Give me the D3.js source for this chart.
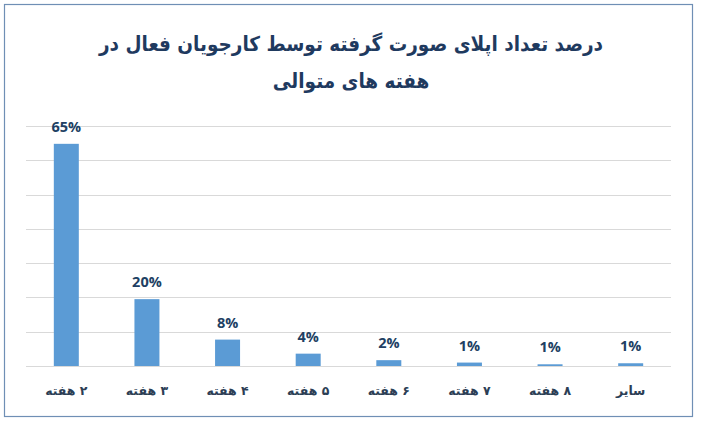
<!DOCTYPE html>
<html>
<head>
<meta charset="utf-8">
<script src="https://cdn.jsdelivr.net/npm/d3@7"></script>
<style>
  body { margin: 0; background: #fff; }
  svg { display: block; }
</style>
</head>
<body>
<svg id="chart" width="701" height="426"></svg>
<script>
// data
const categories = ["۲ هفته", "۳ هفته", "۴ هفته", "۵ هفته", "۶ هفته", "۷ هفته", "۸ هفته", "سایر"]
const values = [64.8, 19.5, 7.7, 3.6, 1.7, 1.0, 0.5, 0.8]
const valueLabels = ["65%", "20%", "8%", "4%", "2%", "1%", "1%", "1%"]
const yTicks = [0, 10, 20, 30, 40, 50, 60, 70]
const titleLines = ["درصد تعداد اپلای صورت گرفته توسط کارجویان فعال در", "هفته های متوالی"]

const svg = d3.select("#chart")
const persianFont = "'DejaVu Sans', sans-serif"

// outer frame
svg.append("rect")
    .attr("x", 4.5).attr("y", 4.5)
    .attr("width", 688).attr("height", 412)
    .attr("fill", "#fff")
    .attr("stroke", "#6f8fb5")
    .attr("stroke-width", 1.2)

const plot = { left: 26, right: 671, top: 126, bottom: 366 }

const x = d3.scaleBand()
    .domain(categories)
    .range([plot.left, plot.right])
    .paddingInner(0.69)
    .paddingOuter(0.345)

const y = d3.scaleLinear()
    .domain([0, 70])
    .range([plot.bottom, plot.top])

// grid lines
svg.append("g")
    .selectAll("line")
    .data(yTicks)
    .enter().append("line")
    .attr("x1", plot.left).attr("x2", plot.right)
    .attr("y1", d => Math.round(y(d)) + 0.5)
    .attr("y2", d => Math.round(y(d)) + 0.5)
    .attr("stroke", "#d9d9d9")
    .attr("stroke-width", 1)

// bars
svg.append("g")
    .selectAll("rect")
    .data(values)
    .enter().append("rect")
    .attr("x", (d, i) => x(categories[i]))
    .attr("width", x.bandwidth())
    .attr("y", d => y(d))
    .attr("height", d => y(0) - y(d))
    .attr("fill", "#5b9bd5")

// value labels
svg.append("g")
    .selectAll("text")
    .data(values)
    .enter().append("text")
    .attr("x", (d, i) => x(categories[i]) + x.bandwidth() / 2)
    .attr("y", d => y(d) - 12)
    .attr("text-anchor", "middle")
    .attr("font-family", "'Open Sans', sans-serif")
    .attr("font-weight", "bold")
    .attr("font-size", 14.5)
    .attr("fill", "#213f63")
    .text((d, i) => valueLabels[i])

// category labels
svg.append("g")
    .selectAll("text")
    .data(categories)
    .enter().append("text")
    .attr("x", d => x(d) + x.bandwidth() / 2)
    .attr("y", 395)
    .attr("text-anchor", "middle")
    .attr("direction", "rtl")
    .attr("font-family", persianFont)
    .attr("font-weight", "bold")
    .attr("font-size", 12.5)
    .attr("fill", "#2c3e55")
    .text(d => d)

// title (slightly narrowed so the taller glyphs keep the original width)
const title = svg.append("g")
    .attr("transform", "translate(351,0) scale(0.9,1)")
title.selectAll("text")
    .data(titleLines)
    .enter().append("text")
    .attr("x", 0)
    .attr("y", (d, i) => 51 + i * 37)
    .attr("text-anchor", "middle")
    .attr("direction", "rtl")
    .attr("font-family", persianFont)
    .attr("font-weight", "bold")
    .attr("font-size", 20.5)
    .attr("fill", "#1f3a5f")
    .text(d => d)
</script>
</body>
</html>
